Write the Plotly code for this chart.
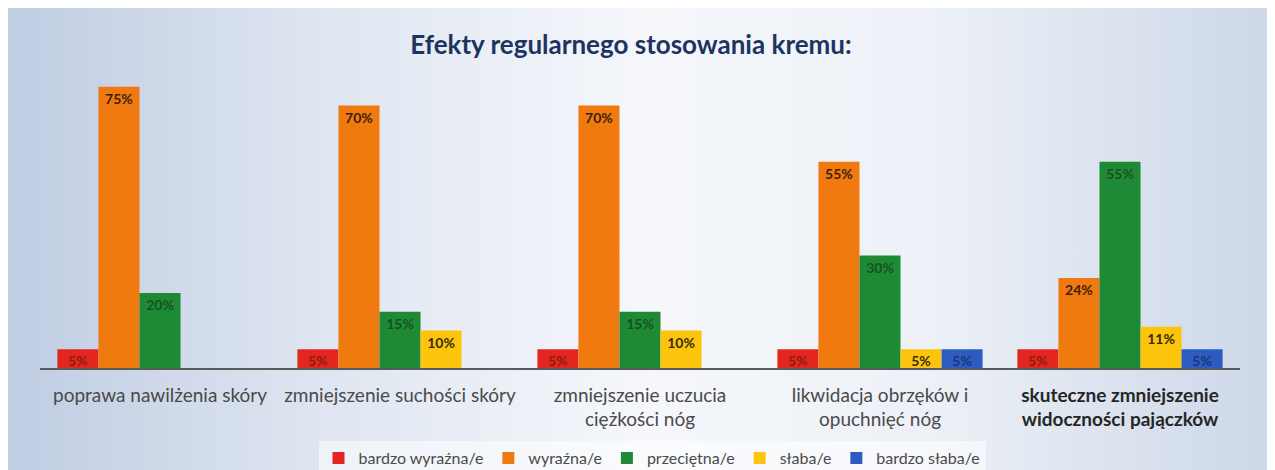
import plotly.graph_objects as go

categories = [
    "poprawa nawilżenia skóry",
    "zmniejszenie suchości skóry",
    "zmniejszenie uczucia<br>ciężkości nóg",
    "likwidacja obrzęków i<br>opuchnięć nóg",
    "<b><span style='color:#262626'>skuteczne zmniejszenie</span><br><span style='color:#262626'>widoczności pajączków</span></b>",
]
series_names = ["bardzo wyraźna/e", "wyraźna/e", "przeciętna/e", "słaba/e", "bardzo słaba/e"]
bardzo_wyrazna = [5, 5, 5, 5, 5]
wyrazna = [75, 70, 70, 55, 24]
przecietna = [20, 15, 15, 30, 55]
slaba = [None, 10, 10, 5, 11]
bardzo_slaba = [None, None, None, 5, 5]

values = [bardzo_wyrazna, wyrazna, przecietna, slaba, bardzo_slaba]
colors = ["#e3261f", "#f07a10", "#1f8a35", "#fcc50c", "#2c5cc2"]
text_colors = ["rgba(100,25,20,0.7)", "#3a2208", "rgba(20,60,25,0.75)", "#3a2a08", "rgba(20,40,90,0.75)"]

fig = go.Figure()
for name, vals, col, tcol in zip(series_names, values, colors, text_colors):
    fig.add_trace(go.Bar(
        name=name,
        x=categories,
        y=vals,
        marker=dict(color=col, line=dict(width=0)),
        text=[f"{v}%" if v else "" for v in vals],
        textposition="inside",
        insidetextanchor="end",
        textangle=0,
        constraintext="none",
        textfont=dict(family="Lato", size=14, color=tcol, weight="bold"),
        hoverinfo="skip",
    ))

svg = ("data:image/svg+xml;utf8,"
       "<svg xmlns='http://www.w3.org/2000/svg' width='100' height='100' preserveAspectRatio='none'>"
       "<defs><linearGradient id='g' x1='0' y1='0' x2='1' y2='0'>"
       "<stop offset='0' stop-color='%23bfcce2'/>"
       "<stop offset='0.25' stop-color='%23dfe6f1'/>"
       "<stop offset='0.5' stop-color='%23f5f7fb'/>"
       "<stop offset='0.72' stop-color='%23edf1f7'/>"
       "<stop offset='1' stop-color='%23cbd6e7'/>"
       "</linearGradient></defs>"
       "<rect width='100' height='100' fill='url(%23g)'/></svg>")

fig.update_layout(
    width=1267, height=462,
    margin=dict(l=32, r=35, t=60, b=102, autoexpand=False),
    paper_bgcolor="#e2e8f1",
    plot_bgcolor="rgba(0,0,0,0)",
    barmode="group",
    bargap=0.145,
    bargroupgap=0.0,
    font=dict(family="Lato", color="#4a4a4a"),
    title=dict(text="<b>Efekty regularnego stosowania kremu:</b>", x=0.4917, xanchor="center",
               y=0.92, yanchor="middle", font=dict(family="Lato", size=26, color="#1d3461")),
    showlegend=True,
    legend=dict(orientation="h", x=0.51, xanchor="center", y=-0.3, yanchor="middle",
                font=dict(family="Lato", size=16, color="#4a4a4a"),
                bgcolor="rgba(255,255,255,0.5)", itemwidth=30, traceorder="normal"),
    images=[dict(source=svg, xref="paper", yref="paper", x=-0.03, y=1.21, sizex=1.07, sizey=1.56,
                 xanchor="left", yanchor="top", sizing="stretch", layer="below")],
)
fig.update_xaxes(showline=True, linecolor="#5a5a5a", linewidth=1.5, ticks="outside",
                 ticklen=9, tickcolor="rgba(0,0,0,0)", automargin=False,
                 tickfont=dict(family="Lato", size=19, color="#4a4a4a"), showgrid=False)
fig.update_yaxes(range=[0, 80], visible=False, showgrid=False, automargin=False)

fig.write_html("out.html")
